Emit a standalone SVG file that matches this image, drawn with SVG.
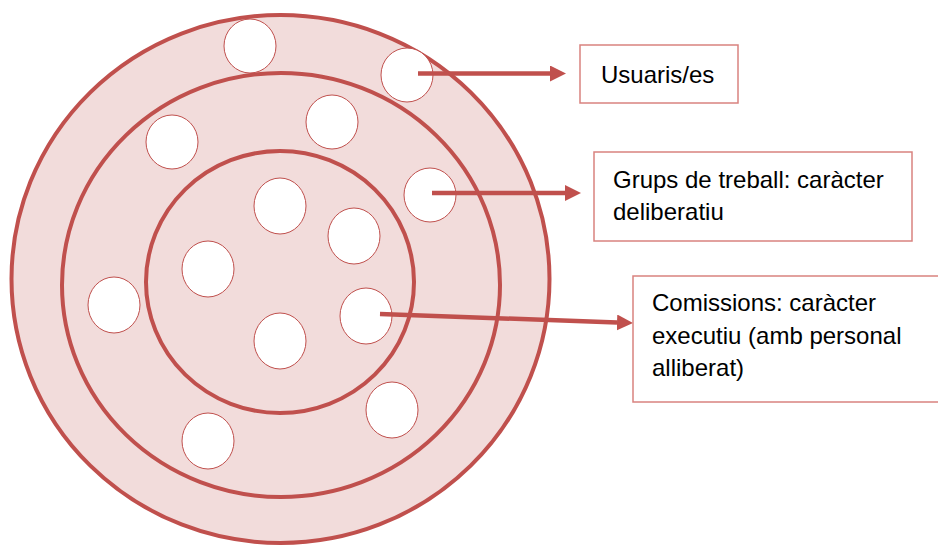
<svg xmlns="http://www.w3.org/2000/svg" width="938" height="545" viewBox="0 0 938 545">
<style>
.ring{fill:#F2DCDB;stroke:#C0504D;stroke-width:4}
.dot{fill:#FFFFFF;stroke:#C0504D;stroke-width:1}
.box{fill:#FFFFFF;stroke:#D9827F;stroke-width:1.5}
.lbl{font-family:"Liberation Sans",Arial,sans-serif;font-size:24px;fill:#000}
.arr{stroke:#C0504D;stroke-width:4.5;fill:none;marker-end:url(#ah)}
</style>
<defs>
<marker id="ah" markerWidth="16" markerHeight="16" refX="0" refY="8" orient="auto" markerUnits="userSpaceOnUse" viewBox="0 0 16 16">
<path d="M0,0 L16,8 L0,16 Z" fill="#C0504D"/>
</marker>
</defs>
<rect width="938" height="545" fill="#FFFFFF"/>
<g id="rings">
<ellipse class="ring" cx="280.5" cy="279" rx="269" ry="264"/>
<ellipse class="ring" cx="281" cy="285" rx="219" ry="212"/>
<ellipse class="ring" cx="280" cy="282" rx="134" ry="131"/>
</g>
<g id="members">
<ellipse class="dot" cx="250" cy="46" rx="26" ry="27"/>
<ellipse class="dot" cx="407" cy="75" rx="26" ry="27"/>
<ellipse class="dot" cx="332" cy="122" rx="26" ry="27"/>
<ellipse class="dot" cx="172" cy="142" rx="26" ry="27"/>
<ellipse class="dot" cx="430" cy="195" rx="26" ry="27"/>
<ellipse class="dot" cx="280" cy="206" rx="26" ry="28"/>
<ellipse class="dot" cx="354" cy="236" rx="26" ry="28"/>
<ellipse class="dot" cx="208" cy="269" rx="26" ry="28"/>
<ellipse class="dot" cx="114" cy="305" rx="26" ry="28"/>
<ellipse class="dot" cx="366" cy="316" rx="26" ry="28"/>
<ellipse class="dot" cx="280" cy="341" rx="26" ry="28"/>
<ellipse class="dot" cx="392" cy="410" rx="26" ry="28"/>
<ellipse class="dot" cx="208" cy="441" rx="26" ry="28"/>
</g>
<g id="connectors">
<line class="arr" x1="418" y1="73.5" x2="550" y2="73.5"/>
<line class="arr" x1="432" y1="193" x2="565" y2="193"/>
<line class="arr" x1="380" y1="314" x2="617" y2="322.5"/>
</g>
<g id="usuaris">
<rect class="box" x="580" y="45" width="158" height="58"/>
<text class="lbl" x="601" y="83">Usuaris/es</text>
</g>
<g id="grups">
<rect class="box" x="594" y="152" width="318" height="89"/>
<text class="lbl" x="613" y="188">Grups de treball: caràcter</text>
<text class="lbl" x="613" y="220">deliberatiu</text>
</g>
<g id="comissions">
<rect class="box" x="633" y="276" width="310" height="126"/>
<text class="lbl" x="652" y="311">Comissions: caràcter</text>
<text class="lbl" x="652" y="344">executiu (amb personal</text>
<text class="lbl" x="652" y="376">alliberat)</text>
</g>
</svg>
